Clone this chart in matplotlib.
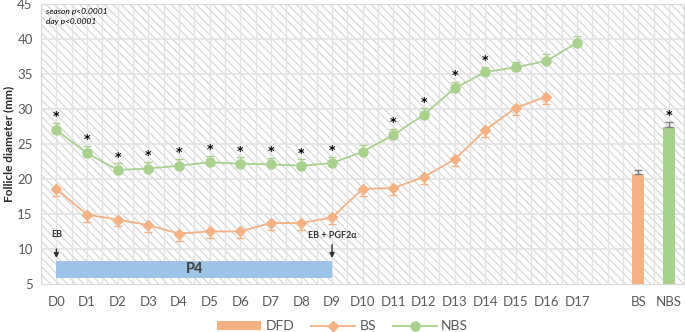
import numpy as np
import matplotlib.pyplot as plt
from matplotlib.patches import Rectangle, Patch
from matplotlib.lines import Line2D

# data
days = ["D%d" % i for i in range(18)]
bs_mean = [18.6, 14.9, 14.2, 13.4, 12.2, 12.5, 12.5, 13.7, 13.7, 14.5,
           18.6, 18.7, 20.3, 22.8, 27.0, 30.2, 31.8]
bs_err = [1.0, 1.05, 0.95, 1.0, 1.05, 1.0, 1.0, 1.0, 1.0, 1.0,
          1.0, 1.0, 0.95, 1.0, 1.05, 1.0, 1.0]
nbs_mean = [27.0, 23.7, 21.3, 21.5, 21.9, 22.4, 22.2, 22.1, 21.9, 22.3,
            23.9, 26.3, 29.2, 33.0, 35.3, 36.0, 36.9, 39.5]
nbs_err = [1.0, 1.0, 0.95, 0.95, 0.95, 0.9, 0.9, 0.9, 0.9, 0.9,
           0.95, 0.9, 0.9, 0.95, 0.8, 0.8, 1.0, 0.9]
nbs_sig = [1, 1, 1, 1, 1, 1, 1, 1, 1, 1, 0, 1, 1, 1, 1, 0, 0, 0]
bar_labels = ["BS", "NBS"]
bar_mean = [20.7, 27.5]
bar_err = [0.65, 0.7]
bar_sig = [0, 1]

orange = "#F4B183"
green = "#A9D18E"
blue = "#9DC3E6"
txt = "#595959"

plt.rcParams['font.family'] = ['Lato', 'DejaVu Sans']
plt.rcParams['hatch.linewidth'] = 0.8

fig = plt.figure(figsize=(6.85, 3.32), dpi=100)
ax = fig.add_axes([0.06, 0.145, 0.939, 0.842])

ticks = days + ["", "BS", "NBS"]
xs = np.arange(len(ticks))
ax.set_xlim(-0.5, len(ticks) - 0.5)
ax.set_ylim(5, 45)

# hatched background + grid
ax.add_patch(Rectangle((-0.5, 5), len(ticks), 40, facecolor="white",
                       edgecolor="#D4D4D4", hatch="\\\\\\\\", lw=0, zorder=0))
for v in np.arange(-0.5, len(ticks), 0.5):
    ax.axvline(v, color="#E3E3E3", lw=1, zorder=0.5)
for v in range(10, 45, 5):
    ax.axhline(v, color="#E3E3E3", lw=1.2, zorder=0.5)

# P4 block and arrows
ax.add_patch(Rectangle((0, 5.9), 9, 2.4, facecolor=blue, edgecolor="none", zorder=1))
ax.text(4.5, 7.1, "P4", ha="center", va="center", fontsize=10.5, fontweight="bold",
        color="#404040", zorder=2)
ax.annotate("", xy=(0, 8.3), xytext=(0, 10.4),
            arrowprops=dict(arrowstyle="-|>", color="#303030", lw=1, mutation_scale=7))
ax.text(0, 12.1, "EB", ha="center", va="center", fontsize=6.5, fontweight="bold", color="#303030")
ax.annotate("", xy=(9, 8.3), xytext=(9, 11.0),
            arrowprops=dict(arrowstyle="-|>", color="#303030", lw=1, mutation_scale=7))
ax.text(9, 11.9, "EB + PGF2α", ha="center", va="center", fontsize=6.5, fontweight="bold",
        color="#303030")

# lines
d = np.arange(len(days))
ax.errorbar(d[:len(bs_mean)], bs_mean, yerr=[bs_err, np.zeros(len(bs_err))],
            color=orange, marker="D", ms=5, lw=1.3, capsize=3, elinewidth=1, zorder=3)
ax.errorbar(d, nbs_mean, yerr=[np.zeros(len(nbs_err)), nbs_err],
            color=green, marker="o", ms=6.5, lw=1.3, capsize=3, elinewidth=1, zorder=3)
for i, s in enumerate(nbs_sig):
    if s:
        ax.text(i, nbs_mean[i] + nbs_err[i] + 0.9, "*", ha="center", va="center",
                fontsize=9, fontweight="bold", zorder=4, family="DejaVu Sans")

# bars
bx = [19, 20]
ax.bar(bx, bar_mean, width=0.4, color=[orange, green], zorder=2,
       yerr=[[0, 0], bar_err], capsize=3, error_kw=dict(ecolor="#7F7F7F", elinewidth=1))
for x, m, e, s in zip(bx, bar_mean, bar_err, bar_sig):
    if s:
        ax.text(x, m + e + 0.9, "*", ha="center", va="center", fontsize=9,
                fontweight="bold", family="DejaVu Sans")

ax.text(-0.35, 44.0, "season p<0.0001", fontsize=6, style="italic", va="center")
ax.text(-0.35, 42.5, "day p<0.0001", fontsize=6, style="italic", va="center")

ax.set_xticks(xs)
ax.set_xticklabels(ticks)
ax.set_yticks(range(5, 50, 5))
ax.tick_params(length=0, colors=txt, labelsize=9.5)
ax.tick_params(axis="x", pad=9)
ax.tick_params(axis="y", pad=6)
for sp in ax.spines.values():
    sp.set_color("#D9D9D9")
ax.set_ylabel("Follicle diameter (mm)", fontsize=8.5, fontweight="bold", color="#262626")
ax.yaxis.set_label_coords(-0.042, 0.5)

handles = [Patch(facecolor=orange, edgecolor="none"),
           Line2D([], [], color=orange, marker="D", ms=5, lw=1.3),
           Line2D([], [], color=green, marker="o", ms=6.5, lw=1.3)]
fig.legend(handles, ["DFD", "BS", "NBS"], ncol=3, loc="center", bbox_to_anchor=(0.5, 0.017),
           frameon=False, fontsize=10, labelcolor=txt, handlelength=3.2, handleheight=0.6,
           columnspacing=1.2, handletextpad=0.3)

fig.savefig("out.png", dpi=100)
